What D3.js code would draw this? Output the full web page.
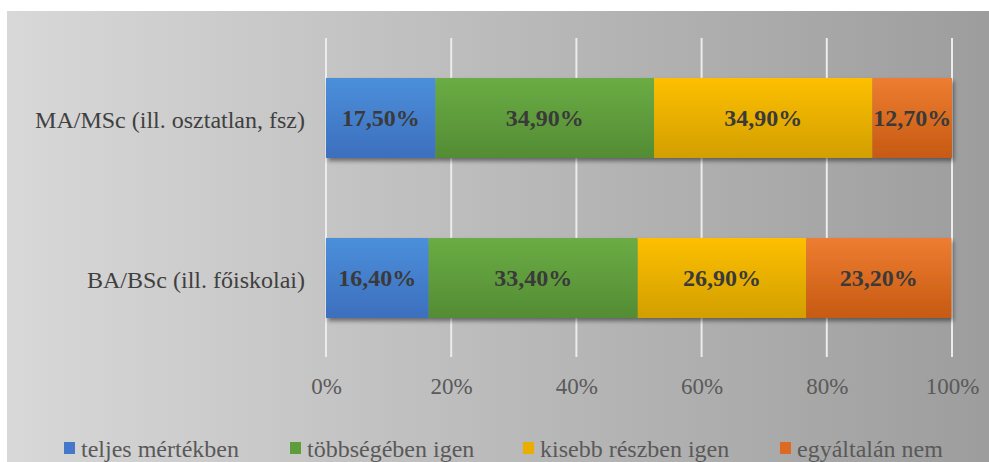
<!DOCTYPE html>
<meta charset="utf-8">
<html>
<head>
  <meta charset="utf-8">
  <title>stacked bar</title>
</head>
<style>
  body { margin: 0; background: #fff; }
  text { font-family: "Liberation Serif", "Times New Roman", serif; }
  .cat { font-size: 24px; fill: #404040; }
  .val { font-size: 24px; font-weight: bold; fill: #3a3a3a; }
  .tick text { font-size: 23px; fill: #5a5a5a; }
  .leg { font-size: 24px; fill: #595959; }
</style>
<body>
<svg width="989" height="462"></svg>
<script src="https://d3js.org/d3.v7.min.js"></script>
<script>

var categories = ["MA/MSc (ill. osztatlan, fsz)", "BA/BSc (ill. főiskolai)"];
var series = ["teljes mértékben", "többségében igen", "kisebb részben igen", "egyáltalán nem"];
var maValues = [17.5, 34.9, 34.9, 12.7];
var baValues = [16.4, 33.4, 26.9, 23.2];
var valueLabels = [["17,50%", "34,90%", "34,90%", "12,70%"], ["16,40%", "33,40%", "26,90%", "23,20%"]];
var tickLabels = ["0%", "20%", "40%", "60%", "80%", "100%"];

var colorsTop = ["#4b8fda", "#6bac44", "#fdbf00", "#ee7d31"];
var colorsBottom = ["#3d6fbe", "#538c34", "#d29f00", "#c65a12"];
var colorsLegend = ["#4677c8", "#5e9c3c", "#e8ae00", "#dc6a22"];

var svg = d3.select("svg"),
    width = +svg.attr("width"),
    height = +svg.attr("height");

var defs = svg.append("defs");

var bg = defs.append("linearGradient").attr("id", "bg")
    .attr("x1", "0").attr("x2", "1").attr("y1", "0").attr("y2", "0");
bg.append("stop").attr("offset", "0").attr("stop-color", "#d8d8d8");
bg.append("stop").attr("offset", "1").attr("stop-color", "#9d9d9d");

series.forEach(function(s, i) {
  var g = defs.append("linearGradient").attr("id", "g" + i)
      .attr("x1", "0").attr("x2", "0").attr("y1", "0").attr("y2", "1");
  g.append("stop").attr("offset", "0").attr("stop-color", colorsTop[i]);
  g.append("stop").attr("offset", "1").attr("stop-color", colorsBottom[i]);
});

defs.append("filter").attr("id", "shadow")
    .attr("x", "-10%").attr("y", "-20%").attr("width", "130%").attr("height", "150%")
  .append("feDropShadow")
    .attr("dx", 2).attr("dy", 3).attr("stdDeviation", 2)
    .attr("flood-color", "#000").attr("flood-opacity", 0.45);

svg.append("rect")
    .attr("x", 7).attr("y", 11)
    .attr("width", width - 7).attr("height", height - 11)
    .attr("fill", "url(#bg)");

var x = d3.scaleLinear().domain([0, 1]).range([326, 952]);
var y = d3.scaleBand().domain(categories).range([38, 358])
    .paddingInner(0.5).paddingOuter(0.25);

// gridlines
svg.append("g")
  .selectAll("line")
  .data(x.ticks(5))
  .enter().append("line")
    .attr("x1", function(d) { return x(d); })
    .attr("x2", function(d) { return x(d); })
    .attr("y1", 38).attr("y2", 357)
    .attr("stroke", "#ececec")
    .attr("stroke-width", 2);

// axis labels
var xAxis = d3.axisBottom(x)
    .ticks(5)
    .tickSize(0)
    .tickPadding(0)
    .tickFormat(function(d, i) { return tickLabels[i]; });

svg.append("g")
    .attr("class", "tick-axis")
    .attr("transform", "translate(0,378)")
    .call(xAxis)
    .call(function(g) { g.select(".domain").remove(); })
    .selectAll("text")
    .attr("font-family", null)
    .attr("font-size", null)
    .attr("fill", null)
    .attr("dy", "0.71em");

// stacked data
var rows = [maValues, baValues].map(function(vals, r) {
  var acc = 0;
  return vals.map(function(v, i) {
    var d = { cat: categories[r], row: r, i: i, x0: acc / 100, x1: (acc + v) / 100, label: valueLabels[r][i] };
    acc += v;
    return d;
  });
});

var barG = svg.append("g").selectAll("g")
  .data(rows)
  .enter().append("g")
    .attr("filter", "url(#shadow)");

barG.selectAll("rect")
  .data(function(d) { return d; })
  .enter().append("rect")
    .attr("x", function(d) { return x(d.x0); })
    .attr("y", function(d) { return y(d.cat); })
    .attr("width", function(d) { return x(d.x1) - x(d.x0); })
    .attr("height", y.bandwidth())
    .attr("fill", function(d) { return "url(#g" + d.i + ")"; });

svg.append("g").selectAll("text")
  .data(rows[0].concat(rows[1]))
  .enter().append("text")
    .attr("class", "val")
    .attr("x", function(d) { return (x(d.x0) + x(d.x1)) / 2; })
    .attr("y", function(d) { return y(d.cat) + y.bandwidth() / 2; })
    .attr("dy", "0.35em")
    .attr("text-anchor", "middle")
    .text(function(d) { return d.label; });

// category labels
svg.append("g").selectAll("text")
  .data(categories)
  .enter().append("text")
    .attr("class", "cat")
    .attr("x", 305)
    .attr("y", function(d) { return y(d) + y.bandwidth() / 2 + 2; })
    .attr("dy", "0.35em")
    .attr("text-anchor", "end")
    .text(function(d) { return d; });

// legend
var legendX = [64, 290, 523, 780];
var legend = svg.append("g").selectAll("g")
  .data(series)
  .enter().append("g")
    .attr("transform", function(d, i) { return "translate(" + legendX[i] + ",442)"; });

legend.append("rect")
    .attr("width", 11).attr("height", 12)
    .attr("fill", function(d, i) { return colorsLegend[i]; });

legend.append("text")
    .attr("class", "leg")
    .attr("x", 17)
    .attr("y", 15)
    .text(function(d) { return d; });

</script>
</body>
</html>
